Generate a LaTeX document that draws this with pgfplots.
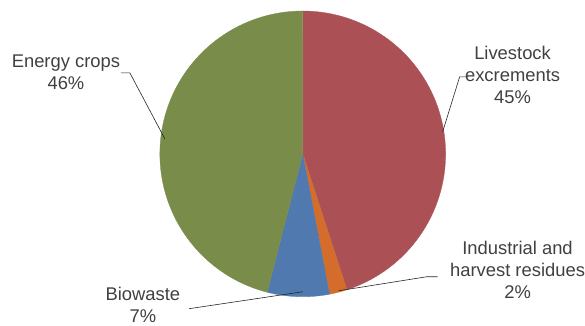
\documentclass[border=0pt]{standalone}
\usepackage{pgfplots}
\pgfplotsset{compat=1.18}
\usepackage{fontspec}
\setmainfont{Liberation Sans}
\definecolor{cLive}{HTML}{AB5155}
\definecolor{cInd}{HTML}{D46C2B}
\definecolor{cBio}{HTML}{4F79AF}
\definecolor{cEn}{HTML}{798C4A}
\definecolor{txt}{HTML}{404040}
% shares in percent
\def\pLive{45}
\def\pInd{2}
\def\pBio{7}
\def\pEn{46}
\tikzset{lbl/.style={font=\fontsize{18.4}{22}\selectfont,text=txt,align=center,inner sep=0pt}}
\begin{document}
\begin{tikzpicture}
\begin{axis}[width=585pt,height=326pt,scale only axis,
  xmin=0,xmax=585,ymin=0,ymax=326,y dir=reverse,hide axis,clip=false]
\path (rel axis cs:0,0) -- (rel axis cs:1,1);
% wedges: start at top (90 deg), going clockwise
\addplot[fill=cLive,draw=cLive,line width=0.3pt,domain={90-\pLive*3.6}:90,samples=90,variable=\t]
  ({303+143*cos(\t)},{154-143*sin(\t)}) -- (axis cs:303,154) -- cycle;
\addplot[fill=cInd,draw=cInd,line width=0.3pt,domain={90-(\pLive+\pInd)*3.6}:{90-\pLive*3.6},samples=10,variable=\t]
  ({303+143*cos(\t)},{154-143*sin(\t)}) -- (axis cs:303,154) -- cycle;
\addplot[fill=cBio,draw=cBio,line width=0.3pt,domain={90-(\pLive+\pInd+\pBio)*3.6}:{90-(\pLive+\pInd)*3.6},samples=20,variable=\t]
  ({303+143*cos(\t)},{154-143*sin(\t)}) -- (axis cs:303,154) -- cycle;
\addplot[fill=cEn,draw=cEn,line width=0.3pt,domain={-270}:{90-(\pLive+\pInd+\pBio)*3.6},samples=90,variable=\t]
  ({303+143*cos(\t)},{154-143*sin(\t)}) -- (axis cs:303,154) -- cycle;
% leader lines
\draw[black!85,line width=0.6pt] (axis cs:121,73) -- (axis cs:130,73) -- (axis cs:165,139);
\draw[black!85,line width=0.6pt] (axis cs:469,77) -- (axis cs:460,77) -- (axis cs:443,132);
\draw[black!85,line width=0.6pt] (axis cs:339,291) -- (axis cs:427,277) -- (axis cs:438,277);
\draw[black!85,line width=0.6pt] (axis cs:189,309) -- (axis cs:303,292);
% labels
\node[lbl] at (axis cs:66,72) {Energy crops\\46\%};
\node[lbl] at (axis cs:513,75) {Livestock\\excrements\\45\%};
\node[lbl] at (axis cs:518,270) {Industrial and\\harvest residues\\2\%};
\node[lbl] at (axis cs:143,305) {Biowaste\\7\%};
\end{axis}
\end{tikzpicture}
\end{document}
